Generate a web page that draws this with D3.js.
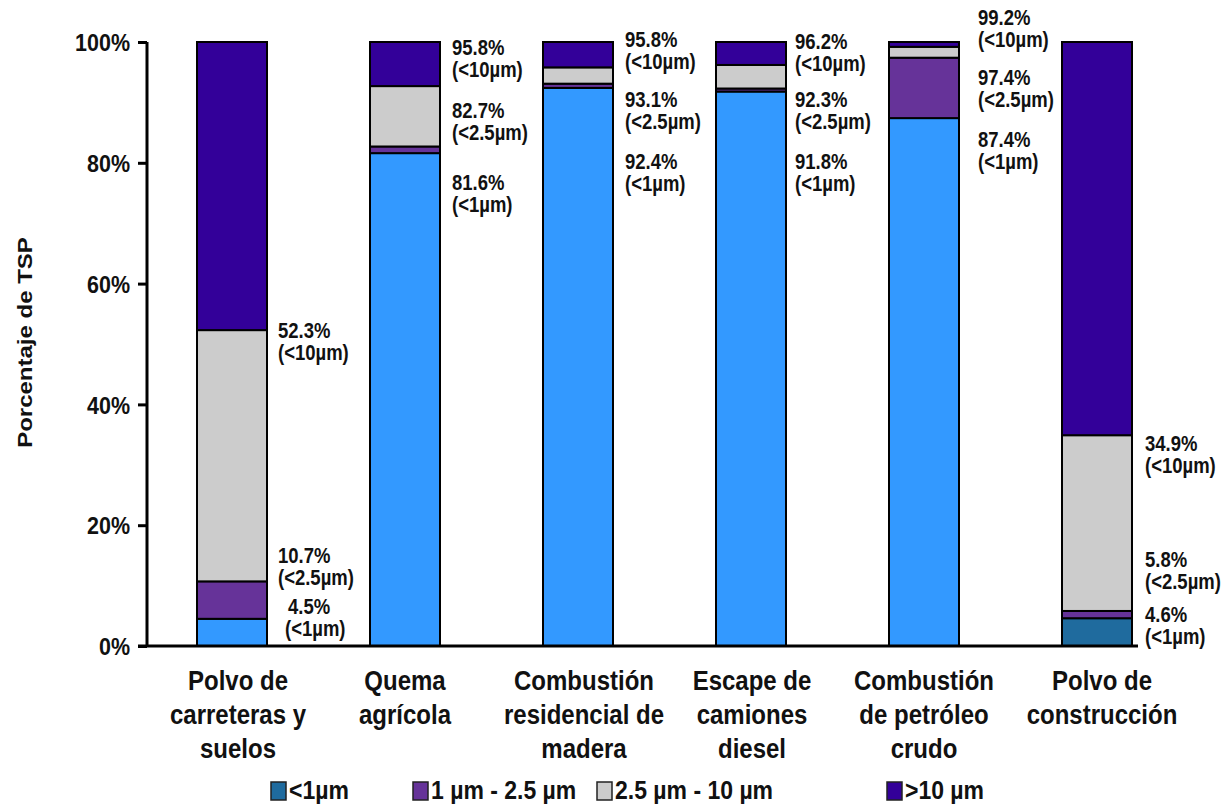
<!DOCTYPE html>
<html><head><meta charset="utf-8">
<script src="https://cdn.jsdelivr.net/npm/d3@7"></script>
<style>
body{margin:0;background:#fff;}
svg{display:block;}
text{font-family:"Liberation Sans",Arial,sans-serif;font-weight:bold;fill:#111;}
</style></head>
<body>
<script>
const categories = [
  ["Polvo de","carreteras y","suelos"],
  ["Quema","agrícola"],
  ["Combustión","residencial de","madera"],
  ["Escape de","camiones","diesel"],
  ["Combustión","de petróleo","crudo"],
  ["Polvo de","construcción"]
];
const seriesNames = ["<1µm","1 µm - 2.5 µm","2.5 µm - 10 µm",">10 µm"];
const lt1    = [4.5, 81.6, 92.4, 91.8, 87.4, 4.6];
const pm1_25 = [6.2, 1.1, 0.7, 0.5, 10.0, 1.2];
const pm25_10= [41.6, 10.0, 2.7, 3.9, 1.8, 29.1];
const gt10   = [47.7, 7.3, 4.2, 3.8, 0.8, 65.1];
const yTicks = [0,20,40,60,80,100];
// value labels: [category index, anchor value (%), line1, line2]
const valueLabels = [
  [0,52.2,"52.3%","(<10µm)"],[0,14.9,"10.7%","(<2.5µm)"],[0,6.5,"4.5%","(<1µm)"],
  [1,99.0,"95.8%","(<10µm)"],[1,88.6,"82.7%","(<2.5µm)"],[1,76.7,"81.6%","(<1µm)"],
  [2,100.3,"95.8%","(<10µm)"],[2,90.4,"93.1%","(<2.5µm)"],[2,80.1,"92.4%","(<1µm)"],
  [3,100.0,"96.2%","(<10µm)"],[3,90.4,"92.3%","(<2.5µm)"],[3,80.1,"91.8%","(<1µm)"],
  [4,104.0,"99.2%","(<10µm)"],[4,94.0,"97.4%","(<2.5µm)"],[4,83.8,"87.4%","(<1µm)"],
  [5,33.4,"34.9%","(<10µm)"],[5,14.2,"5.8%","(<2.5µm)"],[5,5.1,"4.6%","(<1µm)"]
];
const colors = ["#3399ff","#663399","#cccccc","#330099"];
const lt1Alt = "#1f6b9e"; // colour of <1µm in last bar & legend

const W=1227,H=805;
const svg=d3.select("body").append("svg").attr("width",W).attr("height",H);
const y=d3.scaleLinear().domain([0,100]).range([646,42]);
const idx=d3.range(categories.length);
const x=d3.scalePoint().domain(idx).range([232,1097]);
const bw=70;

const rows=idx.map(i=>({i,s0:lt1[i],s1:pm1_25[i],s2:pm25_10[i],s3:gt10[i]}));
const stack=d3.stack().keys(["s0","s1","s2","s3"])(rows);

stack.forEach((layer,k)=>{
  svg.append("g").selectAll("rect").data(layer).join("rect")
    .attr("x",d=>x(d.data.i)-bw/2).attr("width",bw)
    .attr("y",d=>y(d[1])).attr("height",d=>y(d[0])-y(d[1]))
    .attr("fill",d=>(k===0&&d.data.i===5)?lt1Alt:colors[k])
    .attr("stroke","#000").attr("stroke-width",2);
});

// y axis
const ya=svg.append("g").attr("transform","translate(147,0)")
  .call(d3.axisLeft(y).tickValues(yTicks).tickFormat(d=>d+"%").tickSize(9).tickPadding(8));
ya.select(".domain").attr("stroke","#000").attr("stroke-width",3).attr("d","M0,646V42");
ya.selectAll(".tick line").attr("stroke","#000").attr("stroke-width",3);
ya.selectAll(".tick text").attr("font-size",21.5).attr("font-family",null)
  .attr("dy","0.36em").attr("transform","scale(1,1.12)");
// x axis line
svg.append("line").attr("x1",138).attr("x2",1138).attr("y1",646).attr("y2",646)
  .attr("stroke","#000").attr("stroke-width",3);

svg.append("text").attr("font-size",20)
  .attr("transform","translate(32,342.5) scale(1,1.2) rotate(-90)").attr("text-anchor","middle")
  .text("Porcentaje de TSP");

// value labels
const k1=1.15;
const dxs=[46,47,47,44,54,48];
valueLabels.forEach(([i,v,l1,l2],j)=>{
  const x0=x(i)+dxs[i]+(j===2?10:0);
  const t=svg.append("text").attr("font-size",18.5)
    .attr("transform",`translate(${x0},${y(v)+7}) scale(1,${k1})`);
  t.append("tspan").attr("x",0).text(l1);
  t.append("tspan").attr("x",j===2?-3:0).attr("dy",22/k1).text(l2);
});

// category labels
const cdx=[6,0,6,1,0,5];
categories.forEach((lines,i)=>{
  const t=svg.append("text").attr("font-size",24).attr("text-anchor","middle")
    .attr("transform",`translate(${x(i)+cdx[i]},690) scale(1,${k1})`);
  lines.forEach((ln,k)=>t.append("tspan").attr("x",0).attr("dy",k?34/k1:0).text(ln));
});

// legend
const legX=[271,413,597,887];
seriesNames.forEach((n,k)=>{
  svg.append("rect").attr("x",legX[k]).attr("y",782).attr("width",15).attr("height",18)
    .attr("fill",k===0?lt1Alt:colors[k]).attr("stroke","#222").attr("stroke-width",1.5);
  svg.append("text").attr("font-size",23)
    .attr("transform",`translate(${legX[k]+18},799) scale(1,${k1})`).text(n);
});
</script>
</body></html>
